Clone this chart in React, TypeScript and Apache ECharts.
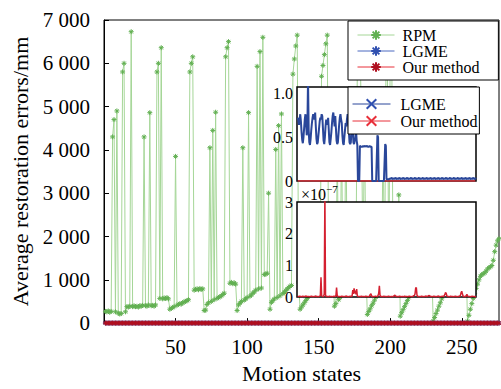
import React, { useEffect, useRef } from "react";
import * as echarts from "echarts";

const FONT = "Liberation Serif";

const X_TICKS = [50, 100, 150, 200, 250];
const Y_TICKS = [0, 1000, 2000, 3000, 4000, 5000, 6000, 7000];

// RPM average restoration errors (mm), motion states 1..276
const RPM = [
  270, 260, 280, 250, 270, 4300, 4700, 260, 4900, 230,
  210, 220, 5800, 6000, 260, 380, 370, 390, 6730, 380,
  400, 380, 390, 370, 400, 390, 410, 4300, 400, 390,
  420, 4860, 400, 410, 390, 420, 5800, 6000, 570, 6360,
  560, 580, 570, 590, 560, 320, 340, 360, 380, 3850,
  410, 430, 450, 440, 470, 490, 500, 520, 540, 5800,
  6000, 6150, 760, 780, 790, 770, 800, 780, 790, 290,
  300, 430, 470, 4050, 500, 4450, 540, 4870, 570, 590,
  610, 630, 660, 690, 6150, 6360, 6500, 920, 940, 910,
  930, 900, 290, 420, 460, 500, 4050, 530, 560, 590,
  4860, 620, 650, 690, 720, 760, 5930, 790, 6270, 810,
  6600, 1120, 1130, 1150, 3000, 320, 480, 520, 560, 4010,
  590, 4560, 630, 4830, 680, 710, 750, 790, 820, 850,
  870, 5750, 6100, 6400, 6650, 950, 320, 370, 420, 470,
  520, 570, 620, 660, 710, 770, 830, 890, 950, 1010,
  1060, 5700, 5950, 6200, 6450, 6650, 1200, 1230, 1260, 1250,
  390, 450, 4100, 540, 600, 4500, 680, 740, 4900, 830,
  890, 950, 1010, 1060, 1110, 1160, 5900, 6100, 6350, 4300,
  1250, 4700, 1260, 200, 270, 330, 400, 460, 530, 600,
  660, 720, 790, 850, 4600, 920, 5800, 6050, 1050, 6300,
  6600, 1150, 1180, 1200, 1220, 2960, 160, 240, 310, 380,
  450, 520, 590, 660, 730, 800, 870, 930, 990, 1050,
  1100, 1150, 1190, 1230, 1260, 1290, 1310, 1330, 1320, 45,
  130, 220, 300, 390, 470, 560, 640, 730, 800, 880,
  950, 1020, 1080, 1140, 1190, 1240, 1280, 1320, 1350, 1380,
  1400, 1420, 1430, 45, 180, 320, 450, 570, 690, 800,
  900, 1000, 1080, 1120, 1140, 1160, 1200, 1250, 1280, 1300,
  1330, 1450, 1650, 1800, 1900, 1950,
];

// LGME average restoration errors (mm)
const LGME = [
  0.72, 0.70, 0.64, 0.70, 0.76, 0.68, 0.56, 0.47, 0.43, 0.50,
  0.60, 0.70, 0.76, 0.66, 0.52, 0.62, 1.15, 0.58, 0.44, 0.41,
  0.48, 0.58, 0.66, 0.72, 0.76, 0.74, 0.70, 0.78, 0.62, 0.48,
  0.42, 0.44, 0.52, 0.60, 0.68, 0.72, 0.70, 0.76, 0.74, 0.60,
  0.46, 0.42, 0.50, 0.62, 0.70, 0.68, 0.64, 0.72, 0.58, 0.44,
  0.41, 0.48, 0.56, 0.66, 0.74, 0.78, 0.70, 0.62, 0.74, 0.60,
  0.46, 0.42, 0.44, 0.54, 0.64, 0.72, 0.76, 0.70, 0.66, 0.52,
  0.43, 0.41, 0.50, 0.58, 0.66, 0.62, 0.70, 0.76, 0.72, 0.56,
  0.44, 0.42, 0.44, 0.58, 0.58, 0.58, 0.44, 0.42, 0.42, 0.50,
  0.58, 0.46, 0.41, 0.00, 0.00, 0.00, 0.40, 0.40, 0.39, 0.39,
  0.39, 0.40, 0.39, 0.39, 0.40, 0.39, 0.39, 0.40, 0.39, 0.39,
  0.39, 0.40, 0.39, 0.39, 0.39, 0.00, 0.00, 0.00, 0.00, 0.00,
  0.00, 0.00, 0.00, 0.52, 0.50, 0.00, 0.00, 0.00, 0.00, 0.00,
  0.00, 0.00, 0.00, 0.00, 0.00, 0.42, 0.40, 0.02, 0.02, 0.02,
  0.02, 0.02, 0.03, 0.02, 0.02, 0.04, 0.02, 0.02, 0.03, 0.02,
  0.02, 0.04, 0.02, 0.02, 0.03, 0.02, 0.02, 0.04, 0.02, 0.02,
  0.03, 0.02, 0.02, 0.04, 0.02, 0.02, 0.03, 0.02, 0.02, 0.04,
  0.02, 0.02, 0.03, 0.02, 0.02, 0.04, 0.02, 0.02, 0.03, 0.02,
  0.02, 0.04, 0.02, 0.02, 0.03, 0.02, 0.02, 0.04, 0.02, 0.02,
  0.03, 0.02, 0.02, 0.04, 0.02, 0.02, 0.03, 0.02, 0.02, 0.04,
  0.02, 0.02, 0.03, 0.02, 0.02, 0.04, 0.02, 0.02, 0.03, 0.02,
  0.02, 0.04, 0.02, 0.02, 0.03, 0.02, 0.02, 0.04, 0.02, 0.02,
  0.03, 0.02, 0.02, 0.04, 0.02, 0.02, 0.03, 0.02, 0.02, 0.04,
  0.02, 0.02, 0.03, 0.02, 0.02, 0.04, 0.02, 0.02, 0.03, 0.02,
  0.02, 0.04, 0.02, 0.02, 0.03, 0.02, 0.02, 0.04, 0.02, 0.02,
  0.03, 0.02, 0.02, 0.04, 0.02, 0.02, 0.03, 0.02, 0.02, 0.04,
  0.02, 0.02, 0.03, 0.02, 0.02, 0.04, 0.02, 0.02, 0.03, 0.02,
  0.02, 0.04, 0.02, 0.02, 0.03, 0.02,
];

// Our method errors, in units of 1e-7 mm
const OURS_E7 = [
  0.02, 0.01, 0.02, 0.03, 0.01, 0.02, 0.02, 0.01, 0.03, 0.02,
  0.01, 0.02, 0.02, 0.03, 0.01, 0.02, 0.01, 0.02, 0.02, 0.01,
  0.02, 0.03, 0.01, 0.02, 0.02, 0.01, 0.02, 0.02, 0.03, 0.01,
  0.02, 0.02, 0.01, 0.02, 0.03, 0.05, 0.62, 0.05, 0.02, 0.01,
  0.02, 0.10, 3.25, 0.06, 0.02, 0.01, 0.02, 0.02, 0.01, 0.03,
  0.02, 0.01, 0.02, 0.02, 0.01, 0.02, 0.03, 0.02, 0.01, 0.04,
  0.30, 0.05, 0.02, 0.01, 0.02, 0.02, 0.01, 0.02, 0.03, 0.01,
  0.02, 0.02, 0.01, 0.02, 0.02, 0.03, 0.01, 0.02, 0.02, 0.01,
  0.02, 0.03, 0.02, 0.01, 0.04, 0.22, 0.10, 0.27, 0.12, 0.20,
  0.08, 0.25, 0.04, 0.02, 0.01, 0.02, 0.02, 0.01, 0.03, 0.02,
  0.01, 0.02, 0.02, 0.01, 0.02, 0.03, 0.01, 0.02, 0.02, 0.01,
  0.02, 0.04, 0.08, 0.10, 0.03, 0.01, 0.02, 0.02, 0.01, 0.02,
  0.03, 0.02, 0.01, 0.02, 0.05, 0.12, 0.35, 0.06, 0.02, 0.01,
  0.02, 0.02, 0.01, 0.03, 0.02, 0.01, 0.02, 0.02, 0.01, 0.02,
  0.03, 0.01, 0.02, 0.02, 0.01, 0.02, 0.02, 0.01, 0.03, 0.04,
  0.06, 0.03, 0.01, 0.02, 0.02, 0.01, 0.02, 0.03, 0.01, 0.02,
  0.02, 0.01, 0.02, 0.02, 0.01, 0.03, 0.02, 0.01, 0.02, 0.02,
  0.01, 0.02, 0.03, 0.01, 0.02, 0.02, 0.01, 0.02, 0.03, 0.05,
  0.04, 0.10, 0.28, 0.30, 0.06, 0.02, 0.01, 0.02, 0.02, 0.01,
  0.02, 0.03, 0.01, 0.02, 0.02, 0.01, 0.02, 0.02, 0.03, 0.01,
  0.02, 0.02, 0.04, 0.05, 0.03, 0.01, 0.02, 0.02, 0.01, 0.02,
  0.03, 0.01, 0.02, 0.02, 0.01, 0.02, 0.02, 0.03, 0.01, 0.02,
  0.02, 0.01, 0.02, 0.03, 0.02, 0.01, 0.04, 0.08, 0.14, 0.12,
  0.04, 0.02, 0.01, 0.02, 0.02, 0.01, 0.03, 0.02, 0.01, 0.02,
  0.02, 0.01, 0.02, 0.03, 0.01, 0.02, 0.02, 0.01, 0.02, 0.03,
  0.02, 0.05, 0.14, 0.18, 0.10, 0.03, 0.01, 0.02, 0.02, 0.01,
  0.05, 0.08, 0.04, 0.02, 0.01, 0.02, 0.02, 0.01, 0.02, 0.03,
  0.02, 0.01, 0.02, 0.02, 0.01, 0.02,
];

const ASTERISK = "path://M5 0L5 10M0 5L10 5M1.5 1.5L8.5 8.5M8.5 1.5L1.5 8.5";
const CROSS = "path://M0 0L10 10M10 0L0 10";

const pairs = (arr: number[], scale = 1) => arr.map((v, i) => [i + 1, v * scale]);

export default function App() {
  const ref = useRef<HTMLDivElement>(null);

  useEffect(() => {
    if (!ref.current) return;
    const chart = echarts.init(ref.current, undefined, { renderer: "svg" });
    const labelStyle = { fontFamily: FONT, color: "#000" };

    const option: any = {
      animation: false,
      backgroundColor: "#fff",
      textStyle: { fontFamily: FONT },
      grid: [
        { left: 104, top: 20, width: 395, height: 307, show: true, borderColor: "#000", borderWidth: 1, backgroundColor: "#fff" },
        { left: 297, top: 87, width: 179, height: 94, show: true, borderColor: "#000", borderWidth: 1.5, backgroundColor: "#fff", z: 10 },
        { left: 297, top: 202, width: 179, height: 95, show: true, borderColor: "#000", borderWidth: 1.5, backgroundColor: "#fff", z: 10 },
      ],
      xAxis: [
        {
          gridIndex: 0, type: "value", min: 0, max: 276, interval: 50,
          axisLine: { lineStyle: { color: "#000" } },
          axisTick: { inside: true, length: 5, lineStyle: { color: "#000" } },
          axisLabel: { ...labelStyle, fontSize: 21, margin: 13, showMinLabel: false, showMaxLabel: false,
            formatter: (v: number) => (X_TICKS.includes(v) ? String(v) : "") },
          splitLine: { show: false },
          name: "Motion states", nameLocation: "middle", nameGap: 36,
          nameTextStyle: { ...labelStyle, fontSize: 22 },
        },
        { gridIndex: 1, type: "value", min: 0, max: 276, show: false },
        { gridIndex: 2, type: "value", min: 0, max: 276, show: false },
      ],
      yAxis: [
        {
          gridIndex: 0, type: "value", min: 0, max: 7000, interval: 1000,
          axisLine: { show: true, lineStyle: { color: "#000" } },
          axisTick: { show: true, inside: true, length: 5, lineStyle: { color: "#000" } },
          axisLabel: { ...labelStyle, fontSize: 21, margin: 14,
            formatter: (v: number) => (Y_TICKS.includes(v) ? (v === 0 ? "0" : `${v / 1000} 000`) : "") },
          splitLine: { show: false },
          name: "Average restoration errors/mm", nameLocation: "middle", nameGap: 73,
          nameTextStyle: { ...labelStyle, fontSize: 22 },
        },
        {
          gridIndex: 1, type: "value", min: 0, max: 1.07, interval: 0.5, z: 11,
          axisLine: { show: false }, axisTick: { show: false }, splitLine: { show: false },
          axisLabel: { ...labelStyle, fontSize: 16, margin: 4, showMaxLabel: false,
            formatter: (v: number) => (v === 0 ? "0" : v.toFixed(1)) },
        },
        {
          gridIndex: 2, type: "value", min: 0, max: 3, interval: 1, z: 11,
          axisLine: { show: false }, axisTick: { show: false }, splitLine: { show: false },
          axisLabel: { ...labelStyle, fontSize: 16, margin: 4 },
        },
      ],
      legend: [
        {
          data: ["RPM", "LGME", "Our method"], orient: "vertical", left: 348, top: 21,
          padding: [6, 19, 5, 9], itemGap: 0, itemWidth: 37, itemHeight: 12,
          backgroundColor: "#fff", borderColor: "#000", borderWidth: 1, z: 20,
          lineStyle: { width: 1 },
          textStyle: { ...labelStyle, fontSize: 16, lineHeight: 16, padding: [0, 0, 0, 3] },
        },
        {
          data: ["LGME ", "Our method "], orient: "vertical", left: 348, top: 87,
          padding: [9, 2, 5, 4], itemGap: 1, itemWidth: 38, itemHeight: 12,
          backgroundColor: "#fff", borderColor: "#000", borderWidth: 1, z: 20,
          lineStyle: { width: 1 },
          formatter: (n: string) => n.trim(),
          textStyle: { ...labelStyle, fontSize: 16, lineHeight: 16, padding: [0, 0, 0, 5] },
        },
      ],
      graphic: [
        { type: "text", left: 301, top: 186, z: 30, style: { text: "×10", font: `16px ${FONT}`, fill: "#000" } },
        { type: "text", left: 326, top: 183, z: 30, style: { text: "−7", font: `11px ${FONT}`, fill: "#000" } },
      ],
      series: [
        {
          name: "RPM", type: "line", xAxisIndex: 0, yAxisIndex: 0, data: pairs(RPM), z: 2,
          symbol: ASTERISK, symbolSize: 5,
          lineStyle: { color: "#a5d697", width: 1 },
          itemStyle: { color: "#62b052", borderColor: "#62b052", borderWidth: 1 },
        },
        {
          name: "LGME", type: "line", xAxisIndex: 0, yAxisIndex: 0, data: pairs(LGME), z: 3,
          symbol: ASTERISK, symbolSize: 5, clip: false,
          lineStyle: { color: "#4a68c0", width: 1 },
          itemStyle: { color: "#3050b0", borderColor: "#3050b0", borderWidth: 1 },
        },
        {
          name: "Our method", type: "line", xAxisIndex: 0, yAxisIndex: 0, data: pairs(OURS_E7, 1e-7), z: 4,
          symbol: ASTERISK, symbolSize: 5, clip: false,
          lineStyle: { color: "#e8303a", width: 2 },
          itemStyle: { color: "#b01020", borderColor: "#b01020", borderWidth: 1 },
        },
        {
          name: "LGME ", type: "line", xAxisIndex: 1, yAxisIndex: 1, data: pairs(LGME), z: 12,
          symbol: CROSS, symbolSize: 6, showSymbol: false,
          lineStyle: { color: "#2a479a", width: 2 },
          itemStyle: { color: "#3050b0", borderColor: "#3050b0", borderWidth: 1.5 },
        },
        {
          name: "Our method ", type: "line", xAxisIndex: 1, yAxisIndex: 1, data: pairs(OURS_E7, 1e-7), z: 11,
          symbol: CROSS, symbolSize: 6, showSymbol: false,
          lineStyle: { color: "#e8303a", width: 1.5 },
          itemStyle: { color: "#e8303a", borderColor: "#e8303a", borderWidth: 1.5 },
        },
        {
          name: "Our method ", type: "line", xAxisIndex: 2, yAxisIndex: 2, data: pairs(OURS_E7), z: 12,
          symbol: "none",
          lineStyle: { color: "#d42030", width: 1.5 },
        },
      ],
    };
    chart.setOption(option);
    return () => chart.dispose();
  }, []);

  return <div ref={ref} style={{ position: "absolute", left: 0, top: 0, width: 501, height: 389 }} />;
}
